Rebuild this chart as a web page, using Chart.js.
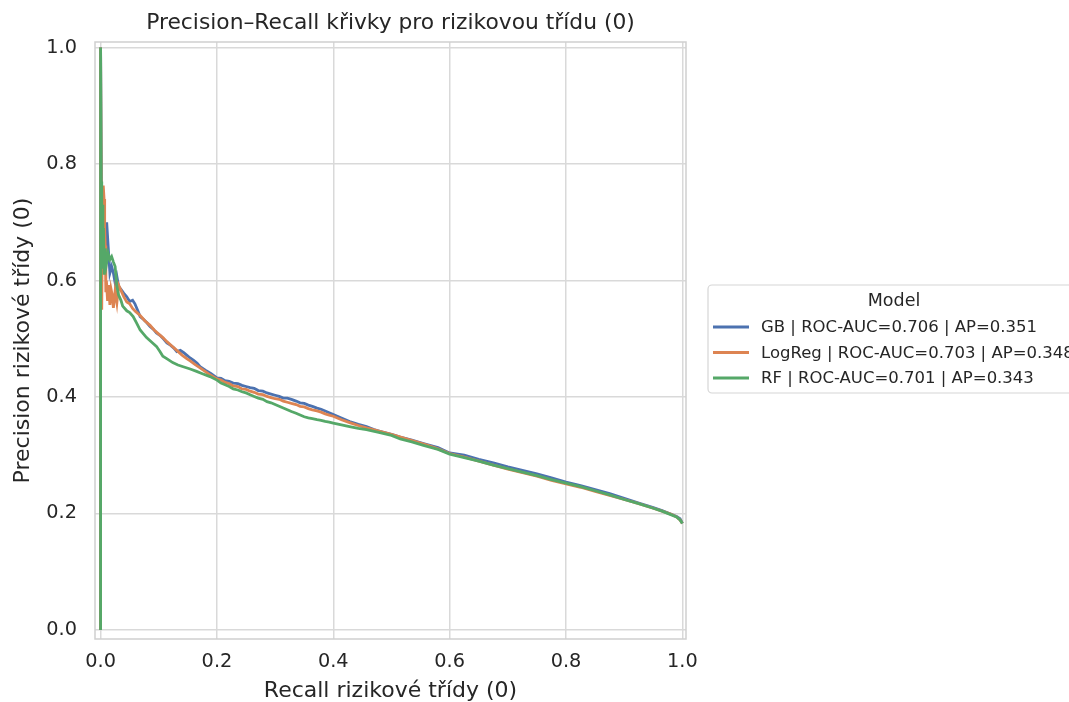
<!DOCTYPE html>
<html>
<head>
<meta charset="utf-8">
<script src="https://cdn.jsdelivr.net/npm/chart.js@4/dist/chart.umd.min.js"></script>
<style>
  body { margin: 0; background: #fff; }
  canvas { display: block; }
</style>
</head>
<body>
<canvas id="prChart" width="1069" height="702"></canvas>
<script>
const models = ['GB', 'LogReg', 'RF'];
const rocAuc = [0.706, 0.703, 0.701];
const avgPrecision = [0.351, 0.348, 0.343];
const colors = ['#4C72B0', '#DD8452', '#55A868'];
const xTicks = [0, 0.2, 0.4, 0.6, 0.8, 1.0];
const yTicks = [0, 0.2, 0.4, 0.6, 0.8, 1.0];

// [recall, precision]
const gbCurve = [
    [0, 0], [0, 1], [0.002, 0.64], [0.004, 0.62], [0.006, 0.66], [0.008, 0.63], [0.0105, 0.70],
    [0.013, 0.659], [0.016, 0.613], [0.019, 0.624], [0.022, 0.613], [0.025, 0.596], [0.028, 0.607],
    [0.031, 0.590], [0.035, 0.585], [0.040, 0.578], [0.045, 0.572], [0.050, 0.564], [0.055, 0.566],
    [0.059, 0.560], [0.064, 0.548], [0.068, 0.538], [0.074, 0.533], [0.080, 0.527], [0.085, 0.521],
    [0.091, 0.516], [0.096, 0.510], [0.102, 0.506], [0.108, 0.500], [0.114, 0.493], [0.120, 0.489],
    [0.126, 0.484], [0.131, 0.478], [0.137, 0.480], [0.143, 0.476], [0.149, 0.471], [0.154, 0.467],
    [0.160, 0.463], [0.166, 0.458], [0.171, 0.452], [0.180, 0.446], [0.190, 0.440], [0.200, 0.433],
    [0.207, 0.432], [0.214, 0.428], [0.221, 0.427], [0.228, 0.424], [0.236, 0.423], [0.243, 0.420],
    [0.250, 0.418], [0.257, 0.416], [0.264, 0.415], [0.271, 0.411], [0.279, 0.410], [0.286, 0.407],
    [0.293, 0.405], [0.300, 0.403], [0.307, 0.401], [0.314, 0.398], [0.321, 0.398], [0.328, 0.396],
    [0.336, 0.393], [0.343, 0.390], [0.350, 0.389], [0.357, 0.386], [0.364, 0.384], [0.372, 0.381],
    [0.379, 0.379], [0.386, 0.376], [0.393, 0.373], [0.400, 0.370], [0.414, 0.364], [0.428, 0.358],
    [0.443, 0.353], [0.457, 0.349], [0.470, 0.344], [0.480, 0.341], [0.500, 0.336], [0.515, 0.331],
    [0.535, 0.326], [0.555, 0.320], [0.580, 0.313], [0.600, 0.304], [0.625, 0.300], [0.650, 0.293],
    [0.675, 0.287], [0.700, 0.280], [0.725, 0.274], [0.750, 0.268], [0.775, 0.261], [0.800, 0.254],
    [0.825, 0.248], [0.850, 0.241], [0.875, 0.234], [0.900, 0.226], [0.925, 0.218], [0.950, 0.210],
    [0.965, 0.205], [0.980, 0.199], [0.990, 0.195], [0.996, 0.191], [1.0, 0.183]
];
const logRegCurve = [
    [0, 0], [0, 1], [0.002, 0.55], [0.003, 0.70], [0.0046, 0.763], [0.006, 0.74], [0.007, 0.69],
    [0.008, 0.66], [0.009, 0.58], [0.010, 0.60], [0.012, 0.565], [0.014, 0.592], [0.016, 0.558],
    [0.018, 0.585], [0.020, 0.575], [0.022, 0.553], [0.025, 0.582], [0.028, 0.562], [0.031, 0.592],
    [0.035, 0.583], [0.040, 0.572], [0.045, 0.563], [0.050, 0.560], [0.055, 0.552], [0.060, 0.547],
    [0.068, 0.540], [0.076, 0.531], [0.085, 0.523], [0.092, 0.515], [0.100, 0.508], [0.107, 0.502],
    [0.114, 0.495], [0.122, 0.488], [0.131, 0.480], [0.140, 0.472], [0.148, 0.466], [0.154, 0.462],
    [0.162, 0.456], [0.171, 0.450], [0.185, 0.440], [0.200, 0.431], [0.207, 0.429], [0.214, 0.425],
    [0.221, 0.423], [0.228, 0.419], [0.236, 0.418], [0.243, 0.414], [0.250, 0.413], [0.257, 0.410],
    [0.264, 0.408], [0.271, 0.405], [0.279, 0.404], [0.286, 0.401], [0.293, 0.399], [0.300, 0.397],
    [0.307, 0.396], [0.314, 0.393], [0.321, 0.391], [0.328, 0.389], [0.336, 0.387], [0.343, 0.384],
    [0.350, 0.383], [0.357, 0.380], [0.364, 0.378], [0.372, 0.376], [0.379, 0.374], [0.386, 0.371],
    [0.393, 0.369], [0.400, 0.367], [0.414, 0.361], [0.428, 0.356], [0.443, 0.351], [0.457, 0.347],
    [0.480, 0.341], [0.500, 0.336], [0.520, 0.330], [0.540, 0.324], [0.560, 0.318], [0.580, 0.311],
    [0.600, 0.303], [0.625, 0.297], [0.650, 0.290], [0.675, 0.283], [0.700, 0.276], [0.725, 0.270],
    [0.750, 0.264], [0.775, 0.257], [0.800, 0.251], [0.825, 0.245], [0.850, 0.238], [0.875, 0.231],
    [0.900, 0.224], [0.925, 0.217], [0.950, 0.209], [0.965, 0.204], [0.980, 0.199], [0.990, 0.194],
    [0.996, 0.189], [1.0, 0.183]
];
const rfCurve = [
    [0, 0], [0, 1], [0.001, 0.77], [0.002, 0.64], [0.003, 0.73], [0.004, 0.62], [0.005, 0.69],
    [0.006, 0.61], [0.008, 0.655], [0.010, 0.628], [0.013, 0.647], [0.016, 0.636], [0.019, 0.641],
    [0.022, 0.632], [0.025, 0.624], [0.028, 0.590], [0.031, 0.575], [0.035, 0.566], [0.038, 0.556],
    [0.045, 0.548], [0.050, 0.545], [0.056, 0.538], [0.062, 0.527], [0.068, 0.515], [0.074, 0.508],
    [0.079, 0.502], [0.088, 0.494], [0.096, 0.487], [0.102, 0.478], [0.107, 0.470], [0.115, 0.465],
    [0.124, 0.459], [0.133, 0.455], [0.142, 0.452], [0.154, 0.448], [0.165, 0.444], [0.175, 0.440],
    [0.188, 0.435], [0.200, 0.429], [0.207, 0.424], [0.214, 0.421], [0.221, 0.418], [0.228, 0.414],
    [0.236, 0.412], [0.243, 0.409], [0.250, 0.407], [0.257, 0.404], [0.264, 0.401], [0.271, 0.398],
    [0.279, 0.396], [0.286, 0.392], [0.293, 0.390], [0.300, 0.387], [0.307, 0.384], [0.314, 0.381],
    [0.321, 0.378], [0.328, 0.375], [0.336, 0.372], [0.343, 0.369], [0.350, 0.366], [0.357, 0.364],
    [0.364, 0.363], [0.372, 0.361], [0.379, 0.360], [0.386, 0.358], [0.393, 0.357], [0.400, 0.355],
    [0.414, 0.352], [0.428, 0.349], [0.443, 0.346], [0.457, 0.344], [0.480, 0.339], [0.500, 0.334],
    [0.515, 0.328], [0.535, 0.323], [0.555, 0.317], [0.580, 0.310], [0.600, 0.302], [0.625, 0.296],
    [0.650, 0.290], [0.675, 0.283], [0.700, 0.277], [0.725, 0.271], [0.750, 0.265], [0.775, 0.258],
    [0.800, 0.252], [0.825, 0.246], [0.850, 0.239], [0.875, 0.232], [0.900, 0.224], [0.925, 0.217],
    [0.950, 0.209], [0.965, 0.204], [0.980, 0.198], [0.990, 0.194], [0.996, 0.189], [1.0, 0.183]
];
const curves = [gbCurve, logRegCurve, rfCurve];

const TEXT = '#262626';
const FONT = '"DejaVu Sans", sans-serif';
const GRID = '#d9d9d9';

// frame, title, axis titles and the legend box to the right of the plot
const decorations = {
    id: 'decorations',
    afterDatasetsDraw(chart) {
        const { ctx, chartArea: a } = chart;
        ctx.save();
        ctx.strokeStyle = '#cfcfcf';
        ctx.lineWidth = 1.5;
        ctx.strokeRect(a.left, a.top, a.right - a.left, a.bottom - a.top);
        ctx.restore();
    },
    afterDraw(chart) {
        const { ctx, chartArea: a } = chart;
        const cx = (a.left + a.right) / 2;
        const cy = (a.top + a.bottom) / 2;
        ctx.save();
        ctx.fillStyle = TEXT;
        ctx.textAlign = 'center';
        ctx.textBaseline = 'middle';
        ctx.font = '21.8px ' + FONT;
        ctx.fillText('Precision–Recall křivky pro rizikovou třídu (0)', cx, 23);
        ctx.font = '22px ' + FONT;
        ctx.fillText('Recall rizikové třídy (0)', cx, 691);
        ctx.translate(23, cy);
        ctx.rotate(-Math.PI / 2);
        ctx.fillText('Precision rizikové třídy (0)', 0, 0);
        ctx.restore();

        // legend
        const bx = 708, by = 285, bw = 372, bh = 108, r = 4;
        ctx.save();
        ctx.beginPath();
        ctx.moveTo(bx + r, by);
        ctx.lineTo(bx + bw - r, by);
        ctx.arcTo(bx + bw, by, bx + bw, by + r, r);
        ctx.lineTo(bx + bw, by + bh - r);
        ctx.arcTo(bx + bw, by + bh, bx + bw - r, by + bh, r);
        ctx.lineTo(bx + r, by + bh);
        ctx.arcTo(bx, by + bh, bx, by + bh - r, r);
        ctx.lineTo(bx, by + r);
        ctx.arcTo(bx, by, bx + r, by, r);
        ctx.closePath();
        ctx.fillStyle = '#fff';
        ctx.fill();
        ctx.strokeStyle = '#d6d6d6';
        ctx.lineWidth = 1.2;
        ctx.stroke();

        ctx.fillStyle = TEXT;
        ctx.textAlign = 'center';
        ctx.textBaseline = 'middle';
        ctx.font = '17.5px ' + FONT;
        ctx.fillText('Model', 894, 301);
        ctx.textAlign = 'left';
        ctx.font = '16.5px ' + FONT;
        chart.data.datasets.forEach((ds, i) => {
            const y = 327 + i * 25.5;
            ctx.strokeStyle = ds.borderColor;
            ctx.lineWidth = 2.8;
            ctx.beginPath();
            ctx.moveTo(713, y);
            ctx.lineTo(749, y);
            ctx.stroke();
            ctx.fillText(ds.label, 761, y + 1);
        });
        ctx.restore();
    }
};

new Chart(document.getElementById('prChart'), {
    type: 'line',
    data: {
        datasets: models.map((m, i) => ({
            label: `${m} | ROC-AUC=${rocAuc[i].toFixed(3)} | AP=${avgPrecision[i].toFixed(3)}`,
            data: curves[i].map(([x, y]) => ({ x, y })),
            borderColor: colors[i],
            borderWidth: 2.8,
            pointRadius: 0,
            tension: 0,
            order: models.length - i
        }))
    },
    options: {
        responsive: false,
        animation: false,
        devicePixelRatio: 1,
        layout: { padding: { top: 42, right: 383, left: 0, bottom: 0 } },
        plugins: {
            legend: { display: false },
            title: { display: false },
            tooltip: { enabled: false }
        },
        scales: {
            x: {
                type: 'linear',
                min: -0.0096,
                max: 1.0062,
                afterBuildTicks: s => { s.ticks = xTicks.map(v => ({ value: v })); },
                afterFit: s => { s.height = 63; },
                border: { display: false },
                grid: { color: GRID, lineWidth: 1.5, drawTicks: false },
                ticks: {
                    autoSkip: false,
                    maxRotation: 0,
                    padding: 11,
                    color: TEXT,
                    font: { family: FONT, size: 19.3 },
                    callback: v => v.toFixed(1)
                }
            },
            y: {
                type: 'linear',
                min: -0.0155,
                max: 1.0095,
                afterBuildTicks: s => { s.ticks = yTicks.map(v => ({ value: v })); },
                afterFit: s => { s.width = 95; },
                border: { display: false },
                grid: { color: GRID, lineWidth: 1.5, drawTicks: false },
                ticks: {
                    autoSkip: false,
                    padding: 18,
                    color: TEXT,
                    font: { family: FONT, size: 19.3 },
                    callback: v => v.toFixed(1)
                }
            }
        }
    },
    plugins: [decorations]
});
</script>
</body>
</html>
